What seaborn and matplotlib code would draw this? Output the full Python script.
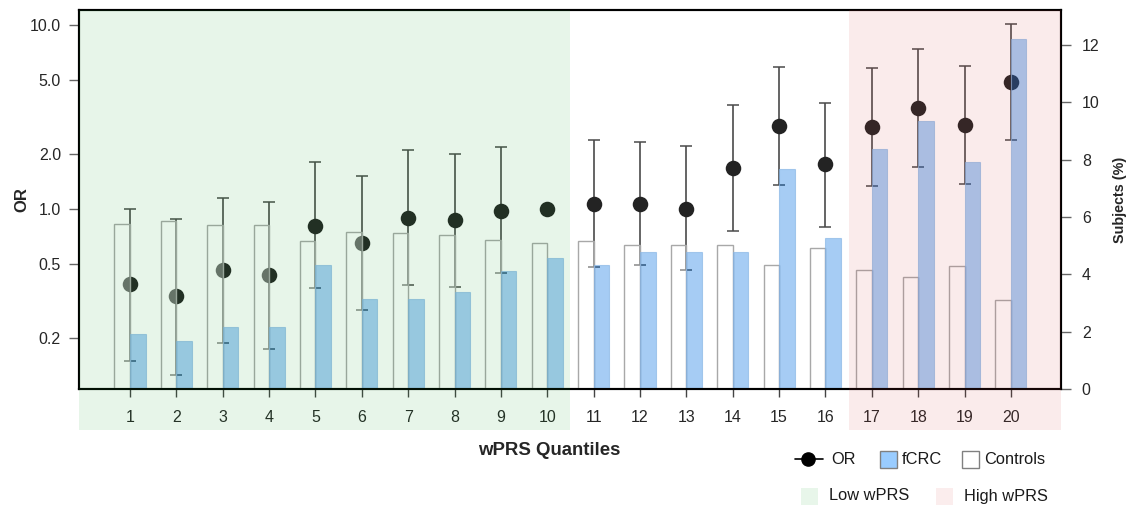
import numpy as np
import pandas as pd
import matplotlib
matplotlib.use("Agg")
import matplotlib.pyplot as plt
import seaborn as sns
from matplotlib.patches import Rectangle
from matplotlib.lines import Line2D
from matplotlib.ticker import FixedLocator, FixedFormatter, NullLocator

# ---- data ----
quantiles = list(range(1, 21))
or_est = [0.39, 0.337, 0.466, 0.438, 0.808, 0.653, 0.894, 0.871, 0.975, 1.0,
          1.065, 1.065, 1.0, 1.67, 2.83, 1.75, 2.79, 3.54, 2.86, 4.88]
or_low = [0.150, 0.125, 0.186, 0.174, 0.372, 0.281, 0.386, 0.377, 0.449, 1.0,
          0.484, 0.494, 0.466, 0.757, 1.345, 0.801, 1.33, 1.70, 1.37, 2.36]
or_high = [1.0, 0.886, 1.15, 1.087, 1.79, 1.52, 2.09, 1.99, 2.17, 1.0,
           2.36, 2.32, 2.19, 3.66, 5.93, 3.78, 5.86, 7.38, 6.01, 10.09]
controls_pct = [5.77, 5.85, 5.71, 5.71, 5.16, 5.47, 5.44, 5.37, 5.20, 5.09,
                5.16, 5.03, 5.03, 5.03, 4.34, 4.91, 4.15, 3.91, 4.28, 3.12]
fcrc_pct = [1.93, 1.67, 2.16, 2.16, 4.33, 3.14, 3.14, 3.38, 4.12, 4.57,
            4.33, 4.78, 4.78, 4.78, 7.66, 5.26, 8.37, 9.35, 7.91, 12.22]
or_ticks = [0.2, 0.5, 1.0, 2.0, 5.0, 10.0]
or_ticklabels = ["0.2", "0.5", "1.0", "2.0", "5.0", "10.0"]
pct_ticks = [0, 2, 4, 6, 8, 10, 12]
low_band = (-0.1, 10.5)
high_band = (16.5, 21.08)

sns.set_style("ticks")
plt.rcParams["font.family"] = ["Liberation Sans", "DejaVu Sans"]
plt.rcParams["text.color"] = "#1a1a1a"

W, H = 1134, 507
fig = plt.figure(figsize=(W / 100, H / 100), dpi=100)
ax = fig.add_axes([79 / W, 1 - 389 / H, (1061 - 79) / W, (389 - 10) / H])
ax.set_yscale("log")
ax2 = ax.twinx()

# ---- OR with CI (left, log axis) ----
est = np.array(or_est)
yerr = [est - np.array(or_low), np.array(or_high) - est]
ax.errorbar(quantiles, or_est, yerr=yerr, fmt="none", ecolor="#4a4a4a",
            elinewidth=1.2, capsize=4, capthick=1.1, zorder=2)
sns.scatterplot(x=quantiles, y=or_est, ax=ax, s=125, color="#232323",
                linewidth=0, zorder=3)

# ---- subject percentages (right axis) ----
bars = pd.DataFrame({
    "quantile": quantiles * 2,
    "group": ["Controls"] * 20 + ["fCRC"] * 20,
    "pct": controls_pct + fcrc_pct,
})
sns.barplot(data=bars, x="quantile", y="pct", hue="group",
            hue_order=["Controls", "fCRC"], native_scale=True, width=0.67,
            errorbar=None, legend=False, ax=ax2)
for p in ax2.containers[0]:
    p.set_facecolor((1, 1, 1, 0.35))
    p.set_edgecolor("#a8a8a8")
    p.set_linewidth(1.0)
for p in ax2.containers[1]:
    p.set_facecolor((0.0, 0.435, 0.886, 0.35))
    p.set_edgecolor((0.55, 0.72, 0.9, 0.7))
    p.set_linewidth(0.8)

# ---- low / high wPRS shading, reaching down over the tick labels ----
for (x0, x1), col in [(low_band, (0.10, 0.65, 0.18)), (high_band, (0.84, 0.26, 0.26))]:
    ax2.add_patch(Rectangle((x0, -0.108), x1 - x0, 1.108,
                            transform=ax2.get_xaxis_transform(), clip_on=False,
                            facecolor=col, alpha=0.1, linewidth=0, zorder=10))

# ---- axes cosmetics ----
ax.set_xlim(-0.1, 21.08)
ax.set_ylim(0.105, 12.07)
ax2.set_ylim(0, 13.22)
ax.set_xticks(quantiles)
ax.set_xticklabels([str(q) for q in quantiles])
ax.yaxis.set_major_locator(FixedLocator(or_ticks))
ax.yaxis.set_major_formatter(FixedFormatter(or_ticklabels))
ax.yaxis.set_minor_locator(NullLocator())
ax2.set_yticks(pct_ticks)

ax.tick_params(axis="x", length=6, width=1, color="#444", pad=9, labelsize=11.5)
ax.tick_params(axis="y", length=7, width=1, color="#666", pad=6, labelsize=11.5)
ax2.tick_params(axis="y", length=7, width=1, color="#666", pad=8, labelsize=11.5)
for a in (ax, ax2):
    for s in a.spines.values():
        s.set_color("black")
        s.set_linewidth(1.5)

ax.set_xlabel("wPRS Quantiles", fontsize=13.4, fontweight="bold")
ax.xaxis.set_label_coords(0.4786, -0.14)
ax.set_ylabel("OR", fontsize=12, fontweight="bold", labelpad=0)
ax2.set_ylabel("Subjects (%)", fontsize=10.4, fontweight="bold", labelpad=10)

# ---- legend, drawn by hand to get the square swatches ----
def fx(px):
    return px / W

def fy(px):
    return 1 - px / H

tf = fig.transFigure
row1, row2 = 459, 496
fig.add_artist(Line2D([fx(795), fx(823)], [fy(row1)] * 2, transform=tf,
                      color="black", lw=1.2))
fig.add_artist(Line2D([fx(808)], [fy(row1)], transform=tf, marker="o",
                      ms=9.5, color="black", lw=0))
fig.text(fx(831), fy(row1), "OR", fontsize=11.8, va="center")
swatches = [
    (880, row1, "#99ccff", "#808080", "fCRC"),
    (962, row1, "white", "#808080", "Controls"),
    (801, row2, "#e8f6ea", "none", "Low wPRS"),
    (936, row2, "#fbeded", "none", "High wPRS"),
]
for x0, yc, fc, ec, label in swatches:
    fig.add_artist(Rectangle((fx(x0), fy(yc + 8.5)), 17 / W, 17 / H,
                             transform=tf, facecolor=fc, edgecolor=ec, lw=1))
    gap = 5 if ec != "none" else 11
    fig.text(fx(x0 + 17 + gap), fy(yc), label, fontsize=11.8, va="center")

fig.savefig("out.png", dpi=100)
